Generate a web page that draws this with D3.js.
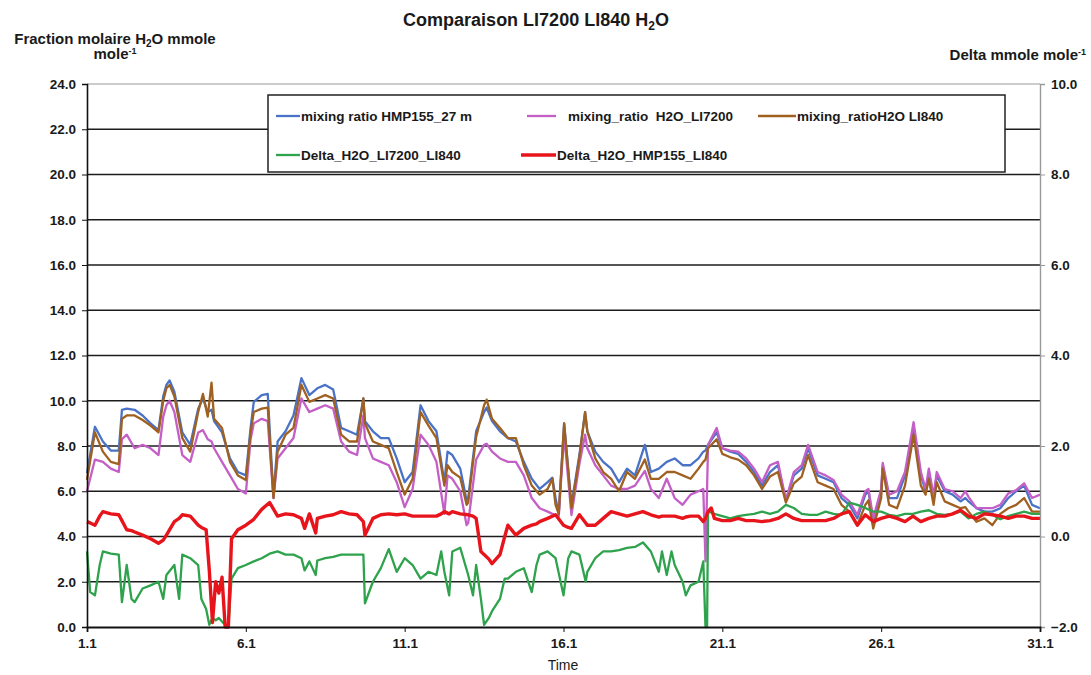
<!DOCTYPE html>
<html><head><meta charset="utf-8">
<script src="https://cdn.jsdelivr.net/npm/d3@7"></script>
<style>
body{margin:0;background:#fff;}
svg text{font-family:"Liberation Sans",Arial,sans-serif;font-weight:bold;fill:#1a1a1a;white-space:pre;}
</style>
</head><body><svg id="c" width="1091" height="675"></svg>
<script>
// ---- data ----
const timeRatio = [1.00,1.25,1.50,1.75,2.00,2.10,2.25,2.50,2.75,3.00,3.25,3.40,3.50,3.60,3.75,4.00,4.25,4.50,4.65,4.80,4.92,5.00,5.25,5.50,5.75,6.00,6.15,6.25,6.50,6.69,6.80,6.87,7.00,7.25,7.50,7.75,8.00,8.25,8.50,8.75,9.00,9.25,9.50,9.70,9.75,10.00,10.25,10.50,10.75,11.00,11.25,11.50,11.75,12.00,12.25,12.35,12.50,12.75,12.95,13.00,13.25,13.50,13.58,13.75,14.00,14.25,14.50,14.75,15.00,15.25,15.50,15.65,15.75,15.85,16.02,16.25,16.50,16.68,16.75,17.00,17.25,17.50,17.75,18.00,18.25,18.56,18.75,19.00,19.25,19.50,19.75,20.00,20.25,20.40,20.47,20.55,20.82,21.00,21.25,21.50,21.75,22.00,22.25,22.50,22.75,23.00,23.25,23.50,23.70,24.00,24.25,24.50,24.75,25.00,25.25,25.50,25.60,25.75,26.00,26.05,26.25,26.50,26.75,27.02,27.25,27.40,27.50,27.65,27.75,28.00,28.25,28.50,28.65,28.75,29.00,29.25,29.50,29.75,30.00,30.25,30.50,30.75,31.00];
const hmp155 = [6.8,8.85,8.2,7.8,7.8,9.6,9.65,9.6,9.35,9.0,8.7,10.2,10.7,10.9,10.4,8.6,8.05,9.65,10.1,9.5,9.6,9.1,8.6,7.45,6.85,6.7,8.8,9.95,10.25,10.3,7.5,5.8,8.2,8.65,9.35,11.0,10.25,10.55,10.7,10.5,8.8,8.65,8.5,10.1,9.1,8.65,8.35,8.35,7.45,6.4,6.85,9.8,9.1,8.65,6.4,7.75,7.6,7.0,5.6,5.7,8.65,9.5,9.7,9.1,8.65,8.35,8.2,7.3,6.55,6.1,6.4,6.6,5.7,5.0,9.0,5.4,7.6,9.5,8.65,7.75,7.3,7.0,6.4,7.0,6.7,8.05,6.85,7.0,7.3,7.45,7.15,7.15,7.45,7.75,7.8,8.05,8.6,7.9,7.75,7.65,7.3,6.85,6.25,6.85,7.15,5.6,6.7,7.0,7.9,6.7,6.55,6.4,5.7,5.4,4.8,5.85,6.0,4.65,6.0,7.15,5.7,5.7,6.7,8.8,6.7,6.0,6.85,5.7,6.7,6.0,5.85,5.55,5.7,5.55,5.25,5.1,5.1,5.25,5.7,6.0,6.25,5.4,5.25];
const li7200 = [6.0,7.4,7.3,7.0,6.85,8.3,8.5,7.9,8.05,7.9,7.6,9.3,9.8,10.0,9.5,7.6,7.3,8.6,8.7,8.3,8.2,7.9,7.3,6.7,6.1,5.9,8.3,9.0,9.2,9.1,7.0,5.7,7.45,7.9,8.35,10.1,9.5,9.65,9.8,9.65,8.2,7.75,7.6,9.35,8.35,7.45,7.3,7.15,6.4,5.3,6.1,8.5,8.05,7.3,5.0,6.7,6.55,6.0,4.5,4.6,7.4,8.05,8.1,7.75,7.45,7.3,7.3,6.7,5.7,5.25,5.1,5.0,4.95,4.9,8.5,4.95,7.2,8.5,7.9,7.15,6.7,6.25,6.1,6.1,6.25,6.9,6.1,5.7,6.55,5.7,5.4,5.85,6.0,6.1,2.9,8.05,8.8,7.9,7.8,7.75,7.45,7.0,6.4,7.15,7.3,5.6,6.85,7.15,8.05,6.85,6.7,6.5,5.85,5.55,4.95,6.0,6.1,4.8,6.1,7.25,5.85,6.0,6.85,9.05,6.85,6.1,7.0,5.8,6.85,6.1,6.0,5.7,6.0,5.75,5.25,5.25,5.25,5.4,5.9,6.05,6.35,5.7,5.85];
const li840 = [6.5,8.6,7.75,7.3,7.2,9.2,9.35,9.35,9.15,8.9,8.6,10.0,10.55,10.7,10.2,8.35,7.75,9.5,10.3,9.3,10.8,9.2,8.8,7.3,6.7,6.5,8.6,9.5,9.65,9.7,7.2,5.7,7.75,8.5,8.8,10.7,9.95,10.1,10.25,10.1,8.5,8.2,8.2,10.1,9.0,8.2,8.05,7.9,6.85,5.85,6.55,9.5,8.9,8.35,6.25,7.15,6.85,6.6,5.4,5.5,8.4,9.8,10.05,9.2,8.8,8.35,8.35,7.15,6.25,5.85,6.1,6.55,5.4,5.0,9.0,5.25,7.5,9.5,8.65,7.45,6.85,6.55,6.0,6.85,6.55,7.4,6.55,6.55,6.85,6.85,6.7,6.55,7.0,7.3,7.4,7.9,8.3,7.65,7.5,7.4,7.15,6.7,6.1,6.65,6.85,5.5,6.35,6.65,7.6,6.4,6.25,6.1,5.4,5.1,4.5,5.4,5.6,4.35,5.7,7.0,5.4,5.25,6.25,8.5,6.25,5.85,6.55,5.4,6.4,5.55,5.4,5.25,5.3,5.1,4.65,4.8,4.5,5.0,5.25,5.4,5.7,5.1,5.1];

const timeDelta = [1.00,1.10,1.25,1.40,1.50,1.75,2.00,2.10,2.25,2.40,2.50,2.75,3.00,3.25,3.40,3.50,3.75,3.90,4.00,4.25,4.50,4.60,4.75,4.85,4.95,5.05,5.15,5.25,5.35,5.45,5.55,5.75,6.00,6.25,6.50,6.75,7.00,7.25,7.50,7.75,7.85,8.00,8.20,8.25,8.50,8.75,9.00,9.25,9.50,9.70,9.75,10.00,10.25,10.50,10.75,11.00,11.25,11.50,11.75,12.00,12.15,12.25,12.40,12.50,12.75,13.00,13.15,13.25,13.40,13.50,13.65,13.75,14.00,14.15,14.25,14.50,14.75,15.00,15.15,15.25,15.50,15.75,16.00,16.15,16.25,16.50,16.70,16.75,17.00,17.25,17.50,17.75,18.00,18.25,18.50,18.75,19.00,19.10,19.25,19.40,19.50,19.75,19.85,20.00,20.25,20.40,20.47,20.52,20.55,20.65,20.75,21.00,21.25,21.50,21.75,22.00,22.25,22.50,22.75,23.00,23.25,23.50,23.75,24.00,24.25,24.50,24.75,25.00,25.25,25.50,25.75,26.00,26.25,26.50,26.75,27.00,27.25,27.50,27.75,28.00,28.25,28.50,28.75,29.00,29.25,29.50,29.75,30.00,30.25,30.50,30.75,31.00];
const deltaLI7200LI840 = [-0.33,-1.23,-1.30,-0.63,-0.33,-0.38,-0.40,-1.45,-0.63,-1.38,-1.45,-1.15,-1.08,-1.00,-1.38,-0.85,-0.63,-1.38,-0.40,-0.48,-0.63,-1.38,-1.60,-1.95,-1.80,-1.85,-1.80,-1.88,-1.95,-2.00,-0.93,-0.70,-0.63,-0.55,-0.48,-0.38,-0.33,-0.40,-0.40,-0.48,-0.75,-0.55,-0.85,-0.53,-0.48,-0.45,-0.40,-0.40,-0.40,-0.40,-1.48,-1.00,-0.70,-0.28,-0.78,-0.48,-0.63,-0.93,-0.78,-0.85,-0.33,-0.78,-1.30,-0.33,-0.25,-0.85,-1.30,-0.63,-1.38,-1.95,-1.80,-1.65,-1.38,-0.93,-0.93,-0.78,-0.70,-1.23,-0.63,-0.40,-0.33,-0.48,-1.30,-0.48,-0.33,-0.40,-1.00,-0.78,-0.48,-0.33,-0.33,-0.30,-0.25,-0.23,-0.13,-0.33,-0.78,-0.33,-0.85,-0.33,-0.63,-1.00,-1.30,-1.08,-1.00,-0.55,-2.00,-2.00,0.55,0.53,0.50,0.45,0.40,0.45,0.48,0.50,0.55,0.50,0.55,0.70,0.63,0.50,0.48,0.48,0.55,0.50,0.48,0.75,0.70,0.63,0.55,0.55,0.48,0.45,0.50,0.50,0.55,0.58,0.50,0.48,0.50,0.55,0.40,0.50,0.55,0.48,0.38,0.45,0.50,0.55,0.50,0.50];
const deltaHMP155LI840 = [0.33,0.30,0.25,0.45,0.55,0.50,0.48,0.35,0.15,0.13,0.10,0.03,-0.05,-0.15,-0.08,0.03,0.33,0.40,0.48,0.45,0.25,0.20,0.15,-0.75,-1.90,-1.00,-1.25,-0.90,-2.00,-2.00,-0.05,0.15,0.25,0.38,0.60,0.75,0.45,0.50,0.48,0.40,0.18,0.50,0.08,0.40,0.45,0.48,0.55,0.50,0.48,0.33,0.03,0.40,0.48,0.50,0.48,0.50,0.45,0.45,0.45,0.45,0.50,0.55,0.50,0.55,0.50,0.48,0.45,0.40,-0.33,-0.40,-0.50,-0.60,-0.40,0.00,0.25,0.03,0.18,0.25,0.28,0.33,0.40,0.48,0.25,0.20,0.18,0.48,0.30,0.25,0.25,0.40,0.55,0.50,0.45,0.50,0.55,0.48,0.43,0.45,0.45,0.45,0.45,0.40,0.43,0.45,0.45,0.33,0.40,0.50,0.55,0.63,0.40,0.35,0.35,0.40,0.35,0.35,0.33,0.35,0.40,0.50,0.40,0.35,0.35,0.35,0.35,0.40,0.50,0.55,0.25,0.48,0.33,0.40,0.45,0.40,0.33,0.45,0.33,0.40,0.45,0.45,0.50,0.58,0.45,0.40,0.50,0.48,0.45,0.40,0.45,0.45,0.40,0.40];

const xTickValues = [1,6,11,16,21,26,31];
const xTickLabels = ["1.1","6.1","11.1","16.1","21.1","26.1","31.1"];
const leftTicks = [0,2,4,6,8,10,12,14,16,18,20,22,24];
const rightTicks = [-2,0,2,4,6,8,10];
const seriesNames = ["mixing ratio HMP155_27 m","mixing_ratio  H2O_LI7200","mixing_ratioH2O LI840","Delta_H2O_LI7200_LI840","Delta_H2O_HMP155_LI840"];
const seriesColors = ["#4a72c6","#c35fc6","#a0601f","#2ea24c","#e8141c"];

// ---- chart ----
const svg = d3.select("#c");
const L = 87, R = 1040, T = 84, B = 627;
const x = d3.scaleLinear().domain([1,31]).range([L,R]);
const yL = d3.scaleLinear().domain([0,24]).range([B,T]);
const yR = d3.scaleLinear().domain([-2,10]).range([B,T]);

// grid lines
svg.append("g").selectAll("line").data(leftTicks.filter(d=>d>0&&d<24)).join("line")
  .attr("x1",L).attr("x2",R).attr("y1",d=>yL(d)).attr("y2",d=>yL(d))
  .attr("stroke","#1c1c1c").attr("stroke-width",1.6);
svg.append("line").attr("x1",L).attr("x2",R).attr("y1",T).attr("y2",T).attr("stroke","#9a9a9a").attr("stroke-width",1.2);

// lines
const defs = [
  {t:timeRatio, v:hmp155, y:yL, c:seriesColors[0], w:2.3},
  {t:timeRatio, v:li7200, y:yL, c:seriesColors[1], w:2.3},
  {t:timeRatio, v:li840, y:yL, c:seriesColors[2], w:2.3},
  {t:timeDelta, v:deltaLI7200LI840, y:yR, c:seriesColors[3], w:2.3},
  {t:timeDelta, v:deltaHMP155LI840, y:yR, c:seriesColors[4], w:3.4}
];
const plot = svg.append("g");
defs.forEach(s=>{
  const line = d3.line().x((d,i)=>x(s.t[i])).y(d=>s.y(d));
  plot.append("path").datum(s.v).attr("d",line).attr("fill","none")
    .attr("stroke",s.c).attr("stroke-width",s.w).attr("stroke-linejoin","round");
});

// axes
const gl = svg.append("g").attr("transform",`translate(${L},0)`)
  .call(d3.axisLeft(yL).tickValues(leftTicks).tickFormat(d3.format(".1f")).tickSize(5).tickPadding(6));
gl.select(".domain").attr("stroke","#111").attr("stroke-width",1.6);
gl.selectAll(".tick line").attr("stroke","#111");

const gr = svg.append("g").attr("transform",`translate(${R},0)`)
  .call(d3.axisRight(yR).tickValues(rightTicks).tickFormat(d3.format(".1f")).tickSize(5).tickPadding(6));
gr.select(".domain").attr("stroke","#9a9a9a").attr("stroke-width",1.4);
gr.selectAll(".tick line").attr("stroke","#9a9a9a");

const gx = svg.append("g").attr("transform",`translate(0,${B})`)
  .call(d3.axisBottom(x).tickValues(xTickValues).tickFormat((d,i)=>xTickLabels[i]).tickSize(5).tickPadding(6));
gx.select(".domain").attr("stroke","#111").attr("stroke-width",1.8);
gx.selectAll(".tick line").attr("stroke","#111");
svg.selectAll(".tick text").attr("font-size",13.5).attr("fill","#1a1a1a").attr("font-family",null).style("font-weight","bold");

// title
const title = svg.append("text").attr("x",536).attr("y",26).attr("text-anchor","middle").attr("font-size",18);
title.append("tspan").text("Comparaison LI7200 LI840 H");
title.append("tspan").attr("font-size",12).attr("dy",4).text("2");
title.append("tspan").attr("dy",-4).text("O");

// left axis title
const lt1 = svg.append("text").attr("x",115).attr("y",44).attr("text-anchor","middle").attr("font-size",15);
lt1.append("tspan").text("Fraction molaire H");
lt1.append("tspan").attr("font-size",10).attr("dy",3).text("2");
lt1.append("tspan").attr("dy",-3).text("O mmole");
const lt2 = svg.append("text").attr("x",115).attr("y",59).attr("text-anchor","middle").attr("font-size",15);
lt2.append("tspan").text("mole");
lt2.append("tspan").attr("font-size",9).attr("dy",-5).text("-1");

// right axis title
const rt = svg.append("text").attr("x",1086).attr("y",60).attr("text-anchor","end").attr("font-size",15);
rt.append("tspan").text("Delta mmole mole");
rt.append("tspan").attr("font-size",9).attr("dy",-5).text("-1");

// x axis title
svg.append("text").attr("x",563).attr("y",670).attr("text-anchor","middle").attr("font-size",14).style("font-weight","normal").text("Time");

// legend
const lg = svg.append("g");
lg.append("rect").attr("x",268).attr("y",95).attr("width",737).attr("height",77)
  .attr("fill","#fff").attr("stroke","#222").attr("stroke-width",1.5);
const legPos = [
  {lx1:276,lx2:300,tx:301,y:116},
  {lx1:527,lx2:556,tx:568,y:116},
  {lx1:758,lx2:796,tx:797,y:116},
  {lx1:276,lx2:300,tx:301,y:155},
  {lx1:521,lx2:556,tx:557,y:155}
];
seriesNames.forEach((n,i)=>{
  const p = legPos[i];
  lg.append("line").attr("x1",p.lx1).attr("x2",p.lx2).attr("y1",p.y).attr("y2",p.y)
    .attr("stroke",seriesColors[i]).attr("stroke-width",i===4?3.4:2.3);
  lg.append("text").attr("x",p.tx).attr("y",p.y+5).attr("font-size",13.5).text(n);
});
</script>
</body></html>
